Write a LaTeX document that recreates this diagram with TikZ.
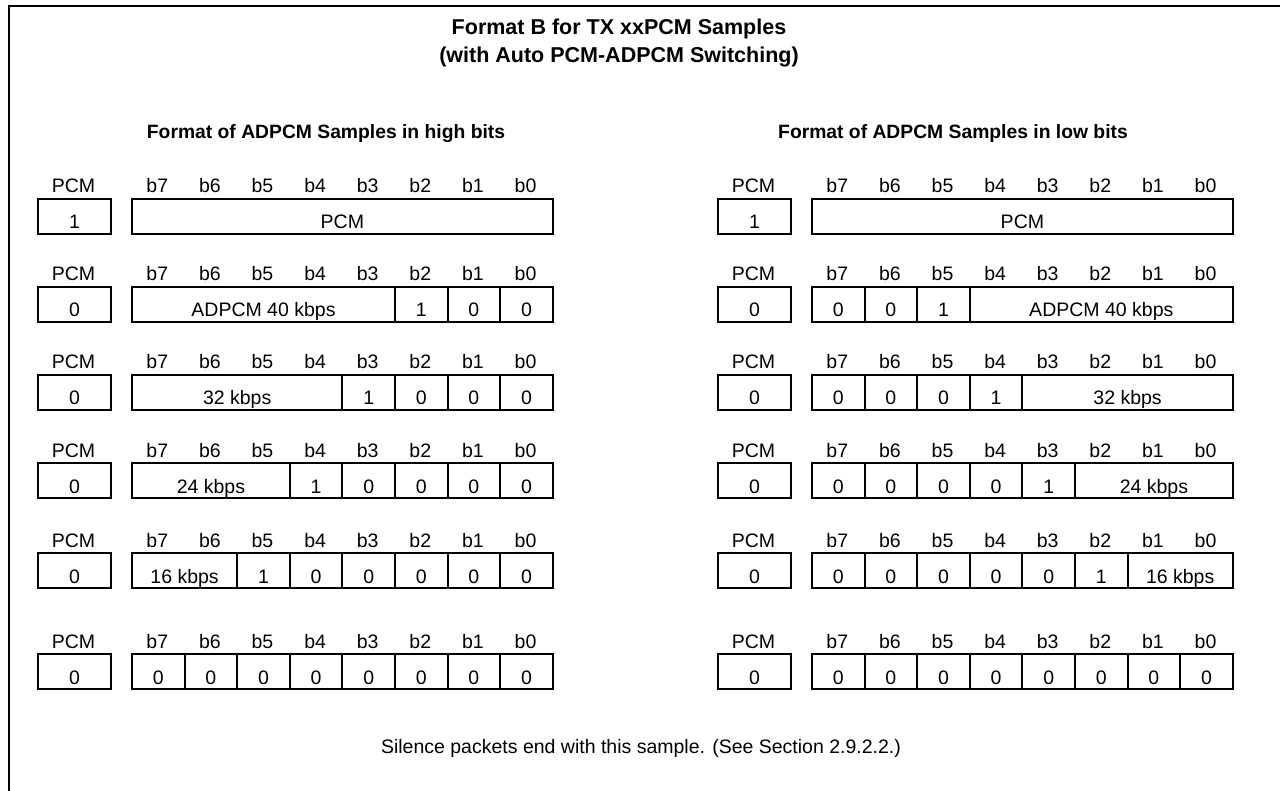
\documentclass[tikz,border=0pt]{standalone}
\usepackage{fontspec}
\setmainfont{Liberation Sans}
\newcommand\bodyfont{\fontsize{19.5}{22}\selectfont}
\newcommand\titlefont{\bfseries\fontsize{21.5}{24}\selectfont}
\newcommand\headfont{\bfseries\fontsize{19.3}{22}\selectfont}
\tikzset{
  cell/.style={draw, line width=2pt, inner sep=0pt, text height=30pt, text depth=5pt, font=\bodyfont, anchor=north west},
  lbl/.style={anchor=base, inner sep=0pt, font=\bodyfont},
  frame/.style={line width=2pt},
}
% #1 prefix, #2 pcm box x, #3 data x, #4 top y, #5 pcm value, #6 field list (start/span/text)
\newcommand\fmtrow[6]{%
  \node[lbl] (#1pl) at ({#2+36.5}, {#4-5}) {PCM};
  \foreach \b [count=\i from 0] in {7,6,5,4,3,2,1,0} {
    \node[lbl] (#1b\b) at ({#3+(\i+0.5)*52.6}, {#4-5}) {b\b};
  }
  \node[cell, minimum width=73pt] (#1p) at (#2, #4) {#5};
  \foreach \s/\n/\t [count=\k] in {#6} {
    \node[cell, minimum width={\n*52.6pt}] (#1f\k) at ({#3+\s*52.6}, #4) {\t};
  }
}
\begin{document}
\begin{tikzpicture}[x=1pt,y=-1pt]
\useasboundingbox (0,0) rectangle (1280,791);
\coordinate (fbl) at (9,791);
\coordinate (ftl) at (9,6);
\coordinate (ftr) at (1280,6);
\draw[frame] (fbl) -- (ftl) -- (ftr);
\node[anchor=base, inner sep=0pt, font=\titlefont] (title1) at (619,35) {Format B for TX xxPCM Samples};
\node[anchor=base, inner sep=0pt, font=\titlefont] (title2) at (619,63) {(with Auto PCM-ADPCM Switching)};
\node[anchor=base, inner sep=0pt, font=\headfont] (headL) at (326,139) {Format of ADPCM Samples in high bits};
\node[anchor=base, inner sep=0pt, font=\headfont] (headR) at (953,139) {Format of ADPCM Samples in low bits};
% left: high bits
\fmtrow{La}{37}{131}{198}{1}{0/8/PCM}
\fmtrow{Lb}{37}{131}{286}{0}{0/5/ADPCM 40 kbps,5/1/1,6/1/0,7/1/0}
\fmtrow{Lc}{37}{131}{374}{0}{0/4/32 kbps,4/1/1,5/1/0,6/1/0,7/1/0}
\fmtrow{Ld}{37}{131}{462}{0}{0/3/24 kbps,3/1/1,4/1/0,5/1/0,6/1/0,7/1/0}
\fmtrow{Le}{37}{131}{552}{0}{0/2/16 kbps,2/1/1,3/1/0,4/1/0,5/1/0,6/1/0,7/1/0}
\fmtrow{Lf}{37}{131}{653}{0}{0/1/0,1/1/0,2/1/0,3/1/0,4/1/0,5/1/0,6/1/0,7/1/0}
% right: low bits
\fmtrow{Ra}{717}{811}{198}{1}{0/8/PCM}
\fmtrow{Rb}{717}{811}{286}{0}{0/1/0,1/1/0,2/1/1,3/5/ADPCM 40 kbps}
\fmtrow{Rc}{717}{811}{374}{0}{0/1/0,1/1/0,2/1/0,3/1/1,4/4/32 kbps}
\fmtrow{Rd}{717}{811}{462}{0}{0/1/0,1/1/0,2/1/0,3/1/0,4/1/1,5/3/24 kbps}
\fmtrow{Re}{717}{811}{552}{0}{0/1/0,1/1/0,2/1/0,3/1/0,4/1/0,5/1/1,6/2/16 kbps}
\fmtrow{Rf}{717}{811}{653}{0}{0/1/0,1/1/0,2/1/0,3/1/0,4/1/0,5/1/0,6/1/0,7/1/0}
\node[anchor=base, inner sep=0pt, font=\bodyfont] (note) at (641,753) {Silence packets end with this sample. (See Section 2.9.2.2.)};
\end{tikzpicture}
\end{document}
